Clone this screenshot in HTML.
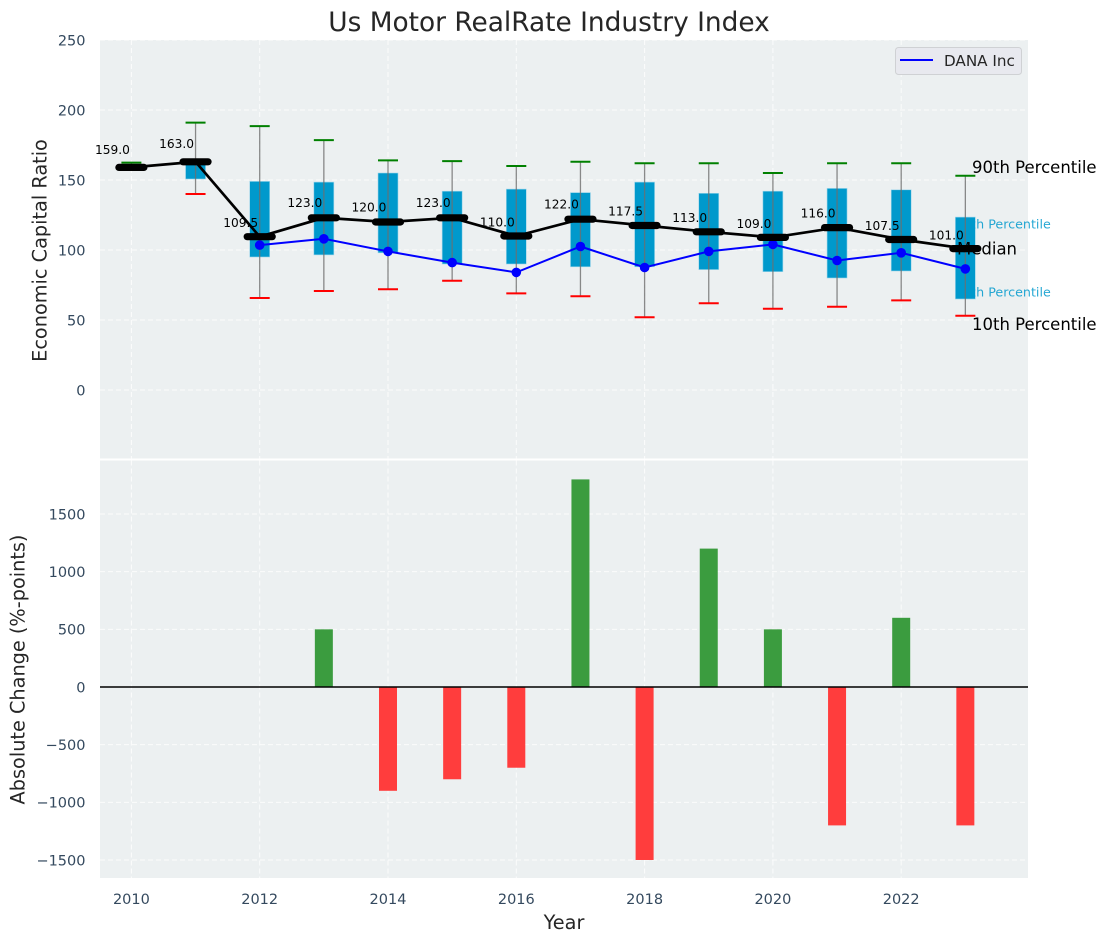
<!DOCTYPE html>
<html lang="en">
<head>
<meta charset="utf-8">
<title>Us Motor RealRate Industry Index</title>
<style>
html,body{margin:0;padding:0;background:#fff;}
svg{display:block;font-family:"DejaVu Sans","Liberation Sans",sans-serif;}
</style>
</head>
<body>
<svg id="chart" xmlns="http://www.w3.org/2000/svg" width="1107" height="942" viewBox="0 0 1107 942"></svg>
<script>
const years = [2010,2011,2012,2013,2014,2015,2016,2017,2018,2019,2020,2021,2022,2023];
const p90 = [162.4,191,188.5,178.5,164,163.5,160,163,162,162,155,162,162,153];
const p75 = [159,163,149,148.5,155,142,143.5,141,148.5,140.5,142,144,143,123.5];
const medians = [159,163,109.5,123,120,123,110,122,117.5,113,109,116,107.5,101];
const p25 = [159,150.7,95,96.5,98,90,90,88,88,86,84.5,80,85,65];
const p10 = [159,140,65.7,70.7,72,78,69,67,52,62,58,59.5,64,53];
const companyYears = [2012,2013,2014,2015,2016,2017,2018,2019,2020,2021,2022,2023];
const companyValues = [103.5,108,99,91,84,102.5,87.5,99,104,92.5,98,86.5];
const changeValues = [0,0,0,500,-900,-800,-700,1800,-1500,1200,500,-1200,600,-1200];
const topTicks = [0,50,100,150,200,250];
const bottomTicks = [-1500,-1000,-500,0,500,1000,1500];
const xTicks = [2010,2012,2014,2016,2018,2020,2022];

const NS = 'http://www.w3.org/2000/svg';
const svg = document.getElementById('chart');
const AX_L = 100, AX_R = 1028, TOP_T = 40, TOP_B = 458.5, BOT_T = 460.5, BOT_B = 878;

function xPos(year){ return 131.4 + (year - 2010) * 64.15; }
function yTop(v){ return 390 - v * 1.4; }
function yBot(v){ return 687 - v * 0.11533; }
function yMedianLabel(v){ return yTop(v) - 0.8 - v * 0.08; }

function make(tag, attrs, text){
  const e = document.createElementNS(NS, tag);
  for (const k in attrs) e.setAttribute(k, attrs[k]);
  if (text !== undefined) e.textContent = text;
  svg.appendChild(e);
  return e;
}
function hline(x1, x2, y, stroke, width, extra){
  return make('line', Object.assign({x1:x1, x2:x2, y1:y, y2:y, stroke:stroke, 'stroke-width':width}, extra || {}));
}
function vline(x, y1, y2, stroke, width, extra){
  return make('line', Object.assign({x1:x, x2:x, y1:y1, y2:y2, stroke:stroke, 'stroke-width':width}, extra || {}));
}
function pts(xs, ys, fy){
  return xs.map((x, i) => xPos(x).toFixed(2) + ',' + fy(ys[i]).toFixed(2)).join(' ');
}

let el;

el = make('rect', {x:AX_L, y:TOP_T, width:AX_R-AX_L, height:TOP_B-TOP_T, fill:'#ecf0f1'});


el = make('rect', {x:AX_L, y:BOT_T, width:AX_R-AX_L, height:BOT_B-BOT_T, fill:'#ecf0f1'});



const gridStyle = {'stroke-dasharray':'5,3', 'stroke-opacity':0.8};
topTicks.forEach(t => {
  el = hline(AX_L, AX_R, yTop(t), '#ffffff', 1, gridStyle);
  
  
  el = make('text', {x:85.5, y:yTop(t)+5.3, 'text-anchor':'end', 'font-size':14.5, fill:'#34495e'}, String(t));
  
  
});
bottomTicks.forEach(t => {
  el = hline(AX_L, AX_R, yBot(t), '#ffffff', 1, gridStyle);
  
  
  el = make('text', {x:85.5, y:yBot(t)+5.3, 'text-anchor':'end', 'font-size':14.5, fill:'#34495e'}, (t < 0 ? '\u2212' + (-t) : String(t)));
  
  
});
xTicks.forEach(t => {
  el = vline(xPos(t), TOP_T, TOP_B, '#ffffff', 1, gridStyle);
  
  
  el = vline(xPos(t), BOT_T, BOT_B, '#ffffff', 1, gridStyle);
  
  
  el = make('text', {x:xPos(t), y:904, 'text-anchor':'middle', 'font-size':14.5, fill:'#34495e'}, String(t));
  
  
});

/* Annotation labels that sit behind the last box */
el = make('text', {x:955, y:228.5, 'font-size':12.7, fill:'#0099cc', 'fill-opacity':0.85}, '75th Percentile');


el = make('text', {x:955, y:296.5, 'font-size':12.7, fill:'#0099cc', 'fill-opacity':0.85}, '25th Percentile');



/* Percentile boxes and whiskers */
years.forEach((yr, i) => {
  const cx = xPos(yr);
  if (p75[i] > p25[i]) {
    el = make('rect', {x:cx-10, y:yTop(p75[i]), width:20, height:yTop(p25[i])-yTop(p75[i]), fill:'#0099cc', stroke:'#9fd6ea', 'stroke-width':0.6});
    
    
  }
  el = vline(cx, yTop(p90[i]), yTop(p10[i]), '#6e6e6e', 1.3, {'stroke-opacity':0.8});
  
  
  el = hline(cx-10, cx+10, yTop(p90[i]), '#008000', 2);
  
  
  el = hline(cx-10, cx+10, yTop(p10[i]), '#ff0000', 2);
  
  
});

/* Company series */
el = make('polyline', {points:pts(companyYears, companyValues, yTop), fill:'none', stroke:'#0000ff', 'stroke-width':2});


companyYears.forEach((yr, i) => {
  el = make('circle', {cx:xPos(yr), cy:yTop(companyValues[i]), r:4.8, fill:'#0000ff'});
  
  
});

/* Median series */
el = make('polyline', {points:pts(years, medians, yTop), fill:'none', stroke:'#000000', 'stroke-width':2.7});


years.forEach((yr, i) => {
  const cx = xPos(yr);
  el = hline(cx-12.5, cx+12.5, yTop(medians[i]), '#000000', 7.2, {'stroke-linecap':'round'});
  
  
  el = make('text', {x:cx-19, y:yMedianLabel(medians[i]), 'text-anchor':'middle', 'font-size':12.2, fill:'#000000'}, medians[i].toFixed(1));
  
  
});

/* Right-hand annotations */
el = make('text', {x:972, y:173, 'font-size':16.5, fill:'#000000'}, '90th Percentile');


el = make('text', {x:957, y:254.5, 'font-size':16.5, fill:'#000000'}, 'Median');


el = make('text', {x:972, y:330, 'font-size':16.5, fill:'#000000'}, '10th Percentile');



/* Change bars */
years.forEach((yr, i) => {
  const v = changeValues[i];
  if (v === 0) return;
  const top = Math.min(yBot(v), yBot(0));
  const h = Math.abs(yBot(v) - yBot(0));
  el = make('rect', {x:xPos(yr)-9, y:top, width:18, height:h, fill:v > 0 ? '#3b9c3f' : '#ff3d3d'});
  
  
});
el = hline(AX_L, AX_R, yBot(0), '#000000', 1.5);



/* Legend */
el = make('rect', {x:895.5, y:47.5, width:126, height:27, rx:3, fill:'#e8e9ef', stroke:'#cfd1d4', 'stroke-width':1});


el = hline(900, 933, 60, '#0000ff', 2);


el = make('text', {x:944, y:66, 'font-size':15.2, fill:'#262626'}, 'DANA Inc');



/* Titles */
el = make('text', {x:549, y:31, 'text-anchor':'middle', 'font-size':26.4, fill:'#262626'}, 'Us Motor RealRate Industry Index');


el = make('text', {x:564, y:929, 'text-anchor':'middle', 'font-size':19.3, fill:'#262626'}, 'Year');


el = make('text', {transform:'translate(46.5,250.5) rotate(-90)', 'text-anchor':'middle', 'font-size':19.3, fill:'#262626'}, 'Economic Capital Ratio');


el = make('text', {transform:'translate(24.5,669.5) rotate(-90)', 'text-anchor':'middle', 'font-size':19.3, fill:'#262626'}, 'Absolute Change (%-points)');


</script>
</body>
</html>
